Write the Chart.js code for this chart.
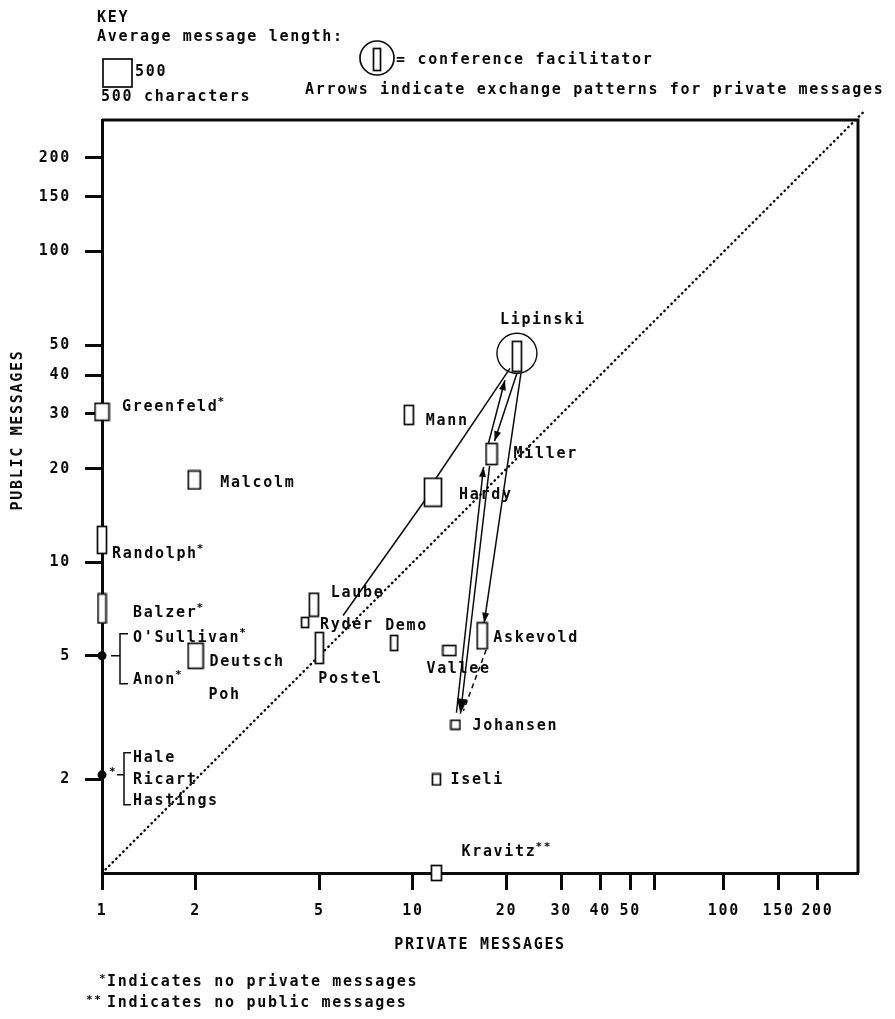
<!DOCTYPE html>
<html>
<head>
<meta charset="utf-8">
<script src="https://cdn.jsdelivr.net/npm/chart.js@4.4.1/dist/chart.umd.min.js"></script>
<style>
  html, body { margin: 0; padding: 0; background: #fff; }
  #wrap { position: relative; width: 895px; height: 1019px; }
</style>
</head>
<body>
<div id="wrap"><canvas id="c"></canvas></div>
<script>
// participants drawn as boxes (private messages on x, public messages on y)
const names = ['Lipinski','Mann','Miller','Hardy','Malcolm','Laube','Ryder','Postel','Demo','Vallee',
               'Askevold','Johansen','Iseli','Deutsch','Greenfeld','Randolph','Balzer','Kravitz'];
const labels = ['Lipinski','Mann','Miller','Hardy','Malcolm','Laube','Ryder','Postel','Demo','Vallee',
                'Askevold','Johansen','Iseli','Deutsch','Greenfeld*','Randolph*','Balzer*','Kravitz**'];
const privateMsgs = [21.6, 9.7, 17.9, 11.6, 1.98, 4.8, 4.5, 5.0, 8.7, 13.1, 16.7, 13.7, 11.9, 2.0, 1, 1, 1, 11.9];
const publicMsgs  = [46, 29.8, 22.3, 16.8, 18.4, 7.3, 6.4, 5.3, 5.5, 5.2, 5.8, 3.0, 2.0, 5.0, 30.5, 11.8, 7.1, 1];

// people with no private messages, bracketed at one dot on the axis
const groupNames = [["O'Sullivan*", 'Anon*'], ['Hale', 'Ricart', 'Hastings']];
const groupPrivate = [1, 1];
const groupPublic = [5.0, 2.07];

// private message exchanges [from, to]
const arrows = [['Ryder','Hardy'], ['Hardy','Lipinski'], ['Miller','Lipinski'], ['Lipinski','Miller'],
                ['Lipinski','Askevold'], ['Johansen','Miller'], ['Miller','Johansen'], ['Askevold','Johansen']];

const diagonal = [1, 280];
const xTicks = [1, 2, 5, 10, 20, 30, 40, 50, 60, 100, 150, 200];
const xTickLabels = ['1','2','5','10','20','30','40','50','','100','150','200'];
const yTicks = [2, 5, 10, 20, 30, 40, 50, 100, 150, 200];

// ---- styling ----
const INK = '#0a0a0a';
const FAM = '"DejaVu Sans Mono", monospace';
const FONT = 'bold 15px ' + FAM;
const SMALL = 'bold 11px ' + FAM;
const SPACING = '1.7px';
// box sizes in px (width, height) for each participant
const boxW = [9, 9, 11, 17, 12, 9, 7, 8, 7, 13, 10, 9, 8, 15, 14, 9, 8, 10];
const boxH = [30, 19, 21, 28, 18, 23, 10, 31, 15, 10, 26, 9, 11, 25, 17, 27, 29, 15];
const labelOff = [[-17,-36],[17,6],[22,0],[26,3],[26,3],[17,-12],[15,3],[-1,31],[-9,-17],[-23,19],
                  [11,2],[17,1],[14,1],[14,6],[20,-5],[10,14],[31,5],[25,-21]];
const arrowStyle = [
  {a:[38,-7], b:[-8,8]},
  {a:[3,-14], b:[-7,12]},
  {a:[-3,-11], b:[-12,24], head:10},
  {a:[0,17], b:[3,-13], head:10},
  {a:[4,17], b:[2,-13], head:10},
  {a:[1,-12], b:[-8,13], head:10},
  {a:[-2,12], b:[5,-11], head:15},
  {a:[4,14], b:[8,-14], dash:[5,4]}
];
const bracketStyle = [
  {h:[9,18], x:18, top:-22, bot:28, tip:26, dy:[-18,24]},
  {h:[15,22], x:22, top:-22, bot:30, tip:29, dy:[-17,5,26], star:true}
];

function boxImg(w, h) {
  const c = document.createElement('canvas');
  c.width = w + 3; c.height = h + 3;
  const g = c.getContext('2d');
  g.fillStyle = '#fff'; g.fillRect(1, 1, w, h);
  g.strokeStyle = INK; g.lineWidth = 1.7; g.strokeRect(1.5, 1.5, w, h);
  return c;
}

function drawLabel(ctx, text, x, y) {
  const m = text.match(/^(.*?)(\**)$/);
  ctx.font = FONT; ctx.textAlign = 'left'; ctx.textBaseline = 'middle';
  ctx.fillText(m[1], x, y);
  if (m[2]) {
    const w = ctx.measureText(m[1]).width;
    ctx.font = SMALL;
    ctx.fillText(m[2], x + w - 1, y - 5);
    ctx.font = FONT;
  }
}

function arrowHead(ctx, x1, y1, x2, y2, len) {
  const a = Math.atan2(y2 - y1, x2 - x1), w = len * 0.35;
  ctx.beginPath();
  ctx.moveTo(x2, y2);
  ctx.lineTo(x2 - len * Math.cos(a) + w * Math.sin(a), y2 - len * Math.sin(a) - w * Math.cos(a));
  ctx.lineTo(x2 - len * Math.cos(a) - w * Math.sin(a), y2 - len * Math.sin(a) + w * Math.cos(a));
  ctx.closePath(); ctx.fill();
}

const decor = {
  id: 'decor',
  beforeDraw(chart) { chart.ctx.letterSpacing = SPACING; },
  beforeDatasetsDraw(chart) {
    const {ctx, chartArea: a} = chart;
    ctx.save();
    ctx.strokeStyle = INK; ctx.lineWidth = 3;
    ctx.beginPath();
    ctx.moveTo(a.left, a.top); ctx.lineTo(a.right, a.top); ctx.lineTo(a.right, a.bottom);
    ctx.stroke();
    ctx.restore();
  },
  afterDatasetsDraw(chart) {
    const {ctx, scales: {x, y}} = chart;
    const px = i => [x.getPixelForValue(privateMsgs[i]), y.getPixelForValue(publicMsgs[i])];
    ctx.save();
    ctx.strokeStyle = INK; ctx.fillStyle = INK; ctx.lineWidth = 1.5;

    // exchange arrows
    arrows.forEach(([f, t], k) => {
      const s = arrowStyle[k];
      const p = px(names.indexOf(f)), q = px(names.indexOf(t));
      const x1 = p[0] + s.a[0], y1 = p[1] + s.a[1], x2 = q[0] + s.b[0], y2 = q[1] + s.b[1];
      ctx.setLineDash(s.dash || []);
      ctx.beginPath(); ctx.moveTo(x1, y1); ctx.lineTo(x2, y2); ctx.stroke();
      ctx.setLineDash([]);
      if (s.head) arrowHead(ctx, x1, y1, x2, y2, s.head);
    });

    // facilitator circle
    const L = px(names.indexOf('Lipinski'));
    ctx.lineWidth = 1.4;
    ctx.beginPath(); ctx.arc(L[0], L[1] - 3, 20, 0, Math.PI * 2); ctx.stroke();

    // name labels
    ctx.letterSpacing = SPACING;
    labels.forEach((t, i) => {
      const p = px(i);
      drawLabel(ctx, t, p[0] + labelOff[i][0], p[1] + labelOff[i][1]);
    });
    const d = px(names.indexOf('Deutsch'));
    drawLabel(ctx, 'Poh', d[0] + 13, d[1] + 39);

    // brackets for groups
    ctx.lineWidth = 1.5;
    groupNames.forEach((g, k) => {
      const b = bracketStyle[k];
      const gx = x.getPixelForValue(groupPrivate[k]), gy = y.getPixelForValue(groupPublic[k]);
      ctx.beginPath();
      ctx.moveTo(gx + b.h[0], gy); ctx.lineTo(gx + b.h[1], gy);
      ctx.moveTo(gx + b.tip, gy + b.top); ctx.lineTo(gx + b.x, gy + b.top);
      ctx.lineTo(gx + b.x, gy + b.bot); ctx.lineTo(gx + b.tip, gy + b.bot);
      ctx.stroke();
      if (b.star) { ctx.font = SMALL; ctx.textAlign = 'left'; ctx.fillText('*', gx + 7, gy - 3); }
      g.forEach((n, j) => drawLabel(ctx, n, gx + 31, gy + b.dy[j]));
    });
    ctx.restore();
  },
  afterDraw(chart) {
    const ctx = chart.ctx;
    ctx.save();
    ctx.letterSpacing = SPACING;
    ctx.fillStyle = INK; ctx.strokeStyle = INK;
    ctx.font = FONT; ctx.textBaseline = 'middle'; ctx.textAlign = 'left';
    // key
    ctx.fillText('KEY', 97, 18);
    ctx.fillText('Average message length:', 97, 37);
    ctx.lineWidth = 1.7;
    ctx.strokeRect(103, 59, 29, 28);
    ctx.fillText('500', 135, 72);
    ctx.fillText('500 characters', 101, 97);
    ctx.beginPath(); ctx.arc(377, 58, 17, 0, Math.PI * 2); ctx.stroke();
    ctx.strokeRect(373.5, 48.5, 7, 22);
    ctx.fillText('= conference facilitator', 396, 60);
    ctx.fillText('Arrows indicate exchange patterns for private messages', 305, 90);
    // axis titles
    ctx.textAlign = 'center';
    ctx.fillText('PRIVATE MESSAGES', 480, 945);
    ctx.save();
    ctx.translate(18, 430); ctx.rotate(-Math.PI / 2);
    ctx.fillText('PUBLIC MESSAGES', 0, 0);
    ctx.restore();
    // footnotes
    ctx.textAlign = 'left';
    ctx.font = SMALL;
    ctx.fillText('*', 99, 979);
    ctx.fillText('**', 86, 1000);
    ctx.font = FONT;
    ctx.fillText('Indicates no private messages', 107, 982);
    ctx.fillText('Indicates no public messages', 107, 1003);
    ctx.restore();
  }
};

const axisCommon = {
  type: 'logarithmic',
  bounds: 'data',
  grid: { drawOnChartArea: false, drawTicks: true, tickLength: 17, tickWidth: 3, tickColor: INK, color: INK },
  border: { display: true, color: INK, width: 3 },
};

new Chart(document.getElementById('c'), {
  type: 'scatter',
  data: {
    datasets: [
      {
        type: 'line', showLine: true,
        data: diagonal.map(v => ({x: v, y: v})),
        borderColor: INK, borderWidth: 2.4, borderDash: [0.5, 4.5], borderCapStyle: 'round',
        pointRadius: 0, clip: false, order: 3
      },
      {
        data: names.map((n, i) => ({x: privateMsgs[i], y: publicMsgs[i]})),
        pointStyle: names.map((n, i) => boxImg(boxW[i], boxH[i])),
        pointRadius: 8, clip: false, order: 1
      },
      {
        data: groupPublic.map((v, i) => ({x: groupPrivate[i], y: v})),
        pointStyle: 'circle', pointRadius: 4.5, backgroundColor: INK, borderWidth: 0,
        clip: false, order: 2
      }
    ]
  },
  options: {
    responsive: true, maintainAspectRatio: false, animation: false,
    layout: { padding: { top: 120, right: 37, left: 0, bottom: 0 } },
    plugins: { legend: { display: false }, tooltip: { enabled: false } },
    scales: {
      x: Object.assign({}, axisCommon, {
        min: 1, max: 270,
        afterFit: s => { s.height = 146; },
        afterBuildTicks: s => { s.ticks = xTicks.map(v => ({value: v})); },
        ticks: { autoSkip: false, maxRotation: 0, color: INK, padding: 12,
                 font: { family: FAM, size: 15, weight: 'bold' }, callback: (v, i) => xTickLabels[i] }
      }),
      y: Object.assign({}, axisCommon, {
        min: 1, max: 265,
        afterFit: s => { s.width = 102; },
        afterBuildTicks: s => { s.ticks = yTicks.map(v => ({value: v})); },
        ticks: { autoSkip: false, color: INK, padding: 14,
                 font: { family: FAM, size: 15, weight: 'bold' }, callback: (v, i) => String(yTicks[i]) }
      })
    }
  },
  plugins: [decor]
});
</script>
</body>
</html>
